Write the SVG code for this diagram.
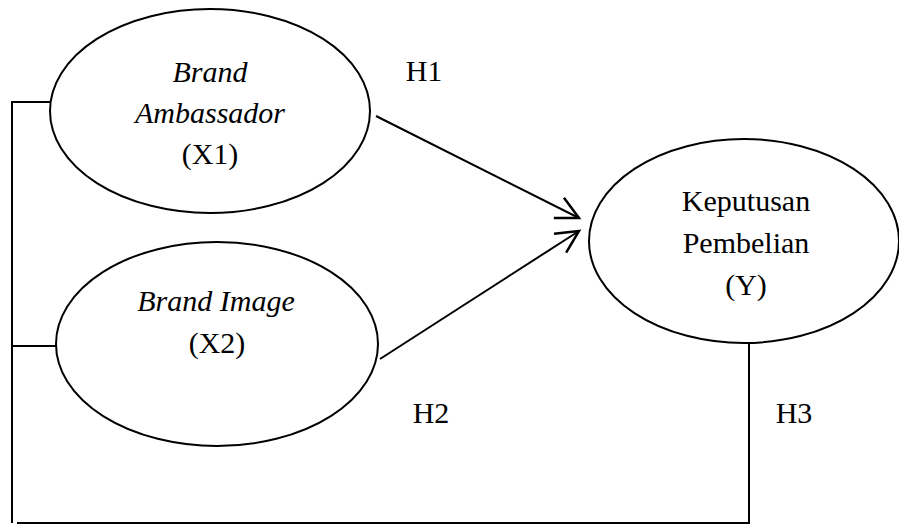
<svg xmlns="http://www.w3.org/2000/svg" width="899" height="525" viewBox="0 0 899 525">
<style>
.node ellipse{fill:#fff;stroke:#000;stroke-width:2}
.conn line,.conn polyline{fill:none;stroke:#000;stroke-width:2}
text{font-family:"Liberation Serif","Times New Roman",serif;font-size:30px;fill:#000;text-anchor:middle}
.it{font-style:italic}
</style>
<defs>
<marker id="open" markerUnits="userSpaceOnUse" markerWidth="30" markerHeight="30" refX="0" refY="0" viewBox="-22 -12 24 24" orient="auto" overflow="visible">
<path d="M-18,-9 L0,0 L-18,9" fill="none" stroke="#000" stroke-width="2"/>
</marker>
</defs>
<rect width="899" height="525" fill="#fff"/>
<g class="conn">
<polyline points="50,102 12,102 12,523"/>
<line x1="12" y1="346" x2="56" y2="346"/>
<polyline points="17,523 749,523 749,343"/>
<line x1="376" y1="116" x2="579" y2="218" marker-end="url(#open)"/>
<line x1="380" y1="359" x2="579" y2="231" marker-end="url(#open)"/>
</g>
<g id="x1" class="node">
<ellipse cx="210" cy="111" rx="160" ry="102"/>
<text x="210" y="82" class="it">Brand</text>
<text x="210" y="123" class="it">Ambassador</text>
<text x="210" y="164">(X1)</text>
</g>
<g id="x2" class="node">
<ellipse cx="217" cy="344" rx="161" ry="102"/>
<text x="216" y="311" class="it">Brand Image</text>
<text x="217" y="353">(X2)</text>
</g>
<g id="y" class="node">
<ellipse cx="744" cy="241" rx="155" ry="102"/>
<text x="746" y="211">Keputusan</text>
<text x="746" y="253">Pembelian</text>
<text x="746" y="295">(Y)</text>
</g>
<g id="labels">
<text x="424" y="81">H1</text>
<text x="431" y="423">H2</text>
<text x="794" y="423">H3</text>
</g>
</svg>
